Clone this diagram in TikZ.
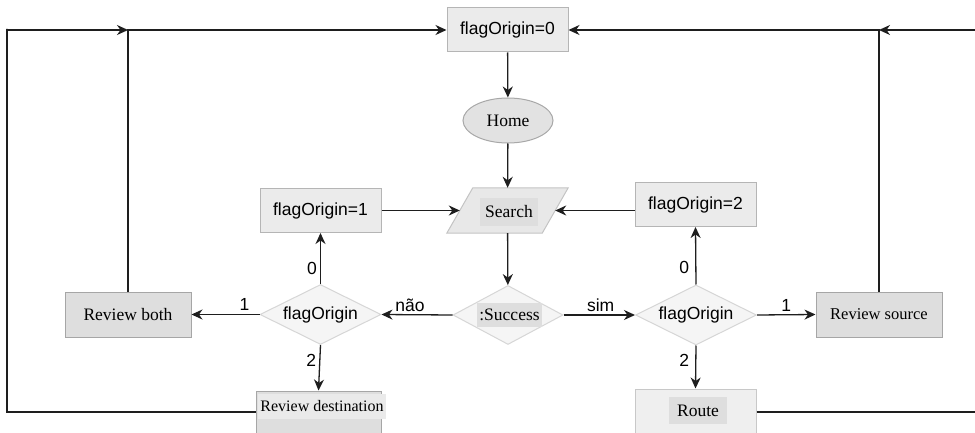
\documentclass[tikz,border=0pt]{standalone}
\usepackage{fontspec}
\setmainfont{Liberation Serif}
\newfontfamily\arialfont{Liberation Sans}
\usetikzlibrary{arrows.meta,shapes.geometric}

\definecolor{boxfill}{HTML}{EBEBEB}
\definecolor{boxline}{HTML}{B5B5B5}
\definecolor{revfill}{HTML}{DEDEDE}
\definecolor{revline}{HTML}{A6A6A6}
\definecolor{routefill}{HTML}{EFEFEF}
\definecolor{routeline}{HTML}{C8C8C8}
\definecolor{hilite}{HTML}{DEDEDE}
\definecolor{destlite}{HTML}{EAEAEA}
\definecolor{diafill}{HTML}{F5F5F5}
\definecolor{dialine}{HTML}{D6D6D6}
\definecolor{homefill}{HTML}{E2E2E2}
\definecolor{homeline}{HTML}{A8A8A8}
\definecolor{searchfill}{HTML}{E8E8E8}
\definecolor{searchline}{HTML}{C4C4C4}
\definecolor{wire}{HTML}{1E1E1E}

\begin{document}
\begin{tikzpicture}[x=1pt,y=-1pt,
  serif/.style={inner sep=0pt, font=\fontsize{17.5}{20}\selectfont},
  sans/.style={inner sep=0pt, font=\arialfont\fontsize{17.5}{20}\selectfont},
  flagbox/.style={sans, draw=boxline, fill=boxfill, line width=1pt,
    minimum width=121pt, minimum height=44pt},
  reviewbox/.style={serif, draw=revline, fill=revfill, line width=1pt,
    minimum width=126pt, minimum height=45pt},
  decision/.style={diamond, inner sep=0pt, draw=dialine, fill=diafill, line width=1pt,
    minimum width=121pt, minimum height=60pt},
  hl/.style={serif, fill=hilite},
  wirestyle/.style={draw=wire, line width=1.3pt},
  arr/.style={wirestyle, -{Stealth[length=11pt,width=10pt,inset=3.5pt]}},
  lbl/.style={sans, inner sep=3pt, text depth=0pt},
]
\useasboundingbox (0,0) rectangle (975,433);
\clip (0,0) rectangle (975,433);
\fill[white] (0,0) rectangle (975,433);

% main column
\node[flagbox] (fo0) at (507.5,30) {flagOrigin=0};
\node[serif, ellipse, draw=homeline, fill=homefill, line width=1pt,
  minimum width=90pt, minimum height=45pt] (home) at (508,120.5) {Home};
% Search: parallelogram around a mid-height rectangle
\node[inner sep=0pt, minimum width=95pt, minimum height=45pt] (search) at (507.5,210.5) {};
\filldraw[draw=searchline, fill=searchfill, line width=1pt]
  ([xshift=13pt]search.north west) -- ([xshift=13pt]search.north east)
  -- ([xshift=-13pt]search.south east) -- ([xshift=-13pt]search.south west) -- cycle;
\node[hl, minimum width=58pt, minimum height=28pt] (searcht) at (509,212) {Search};
\node[decision, minimum width=110pt, minimum height=59pt] (succ) at (508,315) {};
\node[hl, minimum width=65pt, minimum height=24pt] (succt) at (509.5,315) {:Success};

% left branch
\node[flagbox] (fo1) at (320.5,210.5) {flagOrigin=1};
\node[decision] (dl) at (320.5,314.5) {};
\node[sans] (dlt) at (dl) {flagOrigin};
\node[reviewbox] (rb) at (128,314.5) {Review both};
\node[reviewbox, minimum width=125pt] (rd) at (318.5,413.5) {};
\node[serif, fill=destlite, font=\fontsize{16}{18}\selectfont,
  minimum width=128pt, minimum height=25pt] (rdt) at (322,406.5) {Review destination};

% right branch
\node[flagbox] (fo2) at (695.5,204.5) {flagOrigin=2};
\node[decision] (dr) at (696,315) {};
\node[sans] (drt) at (dr) {flagOrigin};
\node[reviewbox, font=\fontsize{16.5}{19}\selectfont] (rs) at (879,314.5) {Review source};
\node[reviewbox, draw=routeline, fill=routefill, minimum width=121pt] (route) at (695.5,411.5) {};
\node[hl, minimum width=58pt, minimum height=27pt] (routet) at (698,410.5) {Route};

% loop corners
\coordinate (lx) at (7,29);
\coordinate (rx) at (1000,29);
\coordinate (lj) at (rb.north |- fo0.west);
\coordinate (rj) at (rs.north |- fo0.east);

% main flow
\draw[arr] (fo0) -- (home);
\draw[arr] (home) -- (search);
\draw[arr] (search) -- (succ);
\draw[arr] (fo1) -- (search);
\draw[arr] (fo2.west |- search.east) -- (search.east);

% decisions
\draw[arr] (succ.west) -- node[lbl, pos=0.6, anchor=south] {não} (dl.east);
\draw[arr] (succ.east) -- node[lbl, pos=0.52, anchor=south] {sim} (dr.west);
\draw[arr] (dl.north) -- node[lbl, pos=0.3, anchor=east] {0} (fo1.south);
\draw[arr] (dl.west) -- node[lbl, pos=0.22, anchor=south] {1} (rb.east);
\draw[arr] (dl.south) -- node[lbl, pos=0.34, anchor=east] {2} (rd.north);
\draw[arr] (dr.north) -- node[lbl, pos=0.3, anchor=east, xshift=-3pt] {0} (fo2.south);
\draw[arr] (dr.east) -- node[lbl, pos=0.5, anchor=south] {1} (rs.west);
\draw[arr] (dr.south) -- node[lbl, pos=0.34, anchor=east, xshift=-3pt] {2} (route.north);

% return paths to flagOrigin=0
\draw[arr] (rb.north) |- (fo0.west);
\draw[arr] (rs.north) |- (fo0.east);
\draw[arr] (rd.west |- 0,412) -| (lx) |- (lj);
\draw[arr] (route.east |- 0,412) -| (rx) |- (rj);
\end{tikzpicture}
\end{document}
